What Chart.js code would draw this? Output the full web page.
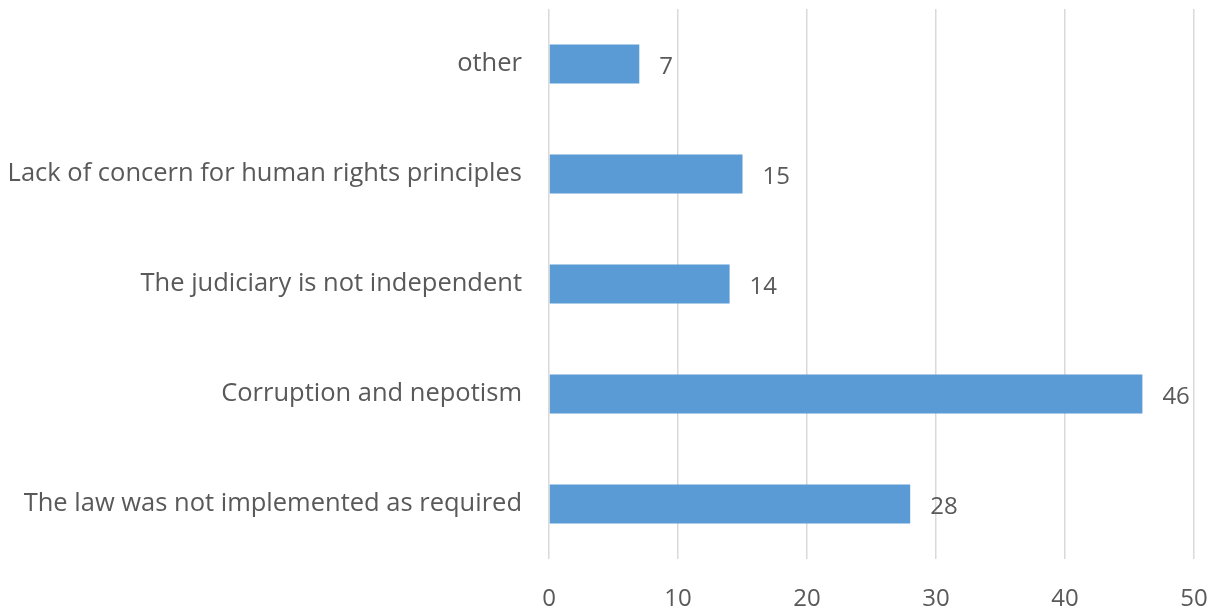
<!DOCTYPE html>
<html>
<head>
<meta charset="utf-8">
<script src="https://cdn.jsdelivr.net/npm/chart.js@4"></script>
<style>
  html, body { margin: 0; padding: 0; background: #fff; }
  #wrap { width: 1218px; height: 609px; }
</style>
</head>
<body>
<div id="wrap"><canvas id="myChart1"></canvas></div>
<script>
const categories = [
  "other",
  "Lack of concern for human rights principles",
  "The judiciary is not independent",
  "Corruption and nepotism",
  "The law was not implemented as required",
];
const counts = [7, 15, 14, 46, 28];
const axisTicks = [0, 10, 20, 30, 40, 50];

const textColor = "#595959";
const fontFamily = "'Open Sans', 'Noto Sans', sans-serif";

// writes each bar's value just past its end
const valueLabels = {
  id: "valueLabels",
  afterDatasetsDraw(chart) {
    const ctx = chart.ctx;
    const meta = chart.getDatasetMeta(0);
    ctx.save();
    ctx.font = "24px " + fontFamily;
    ctx.fillStyle = textColor;
    ctx.textAlign = "left";
    ctx.textBaseline = "middle";
    meta.data.forEach((bar, i) => {
      ctx.fillText(String(counts[i]), bar.x + 20, bar.y + 3);
    });
    ctx.restore();
  },
};

// fixed axis sizes, no extra room around the labels
function noPadding(axis) {
  axis.paddingTop = 0;
  axis.paddingBottom = 0;
  axis.paddingLeft = 0;
  axis.paddingRight = 0;
}

const ctx = document.getElementById("myChart1").getContext("2d");
const chart1 = new Chart(ctx, {
  type: "bar",
  data: {
    labels: categories,
    datasets: [
      {
        data: counts,
        backgroundColor: "#5b9bd5",
        borderWidth: 0,
        barPercentage: 0.355,
        categoryPercentage: 1,
      },
    ],
  },
  options: {
    indexAxis: "y",
    responsive: true,
    maintainAspectRatio: false,
    animation: false,
    layout: { autoPadding: false, padding: { top: 9, right: 24, left: 0, bottom: 0 } },
    plugins: {
      legend: { display: false },
      tooltip: { enabled: false },
    },
    scales: {
      x: {
        min: 0,
        max: 50,
        afterBuildTicks(axis) {
          axis.ticks = axisTicks.map((v) => ({ value: v }));
        },
        afterFit(axis) {
          axis.height = 50;
          noPadding(axis);
        },
        grid: { color: "#d9d9d9", lineWidth: 1.5, drawTicks: false },
        border: { display: false },
        ticks: {
          color: textColor,
          font: { family: fontFamily, size: 24 },
          padding: 26,
        },
      },
      y: {
        afterFit(axis) {
          axis.width = 549;
          noPadding(axis);
        },
        grid: { display: false, drawTicks: false },
        border: { display: false },
        ticks: {
          color: textColor,
          font: { family: fontFamily, size: 25.5 },
          padding: 27,
        },
      },
    },
  },
  plugins: [valueLabels],
});
</script>
</body>
</html>
